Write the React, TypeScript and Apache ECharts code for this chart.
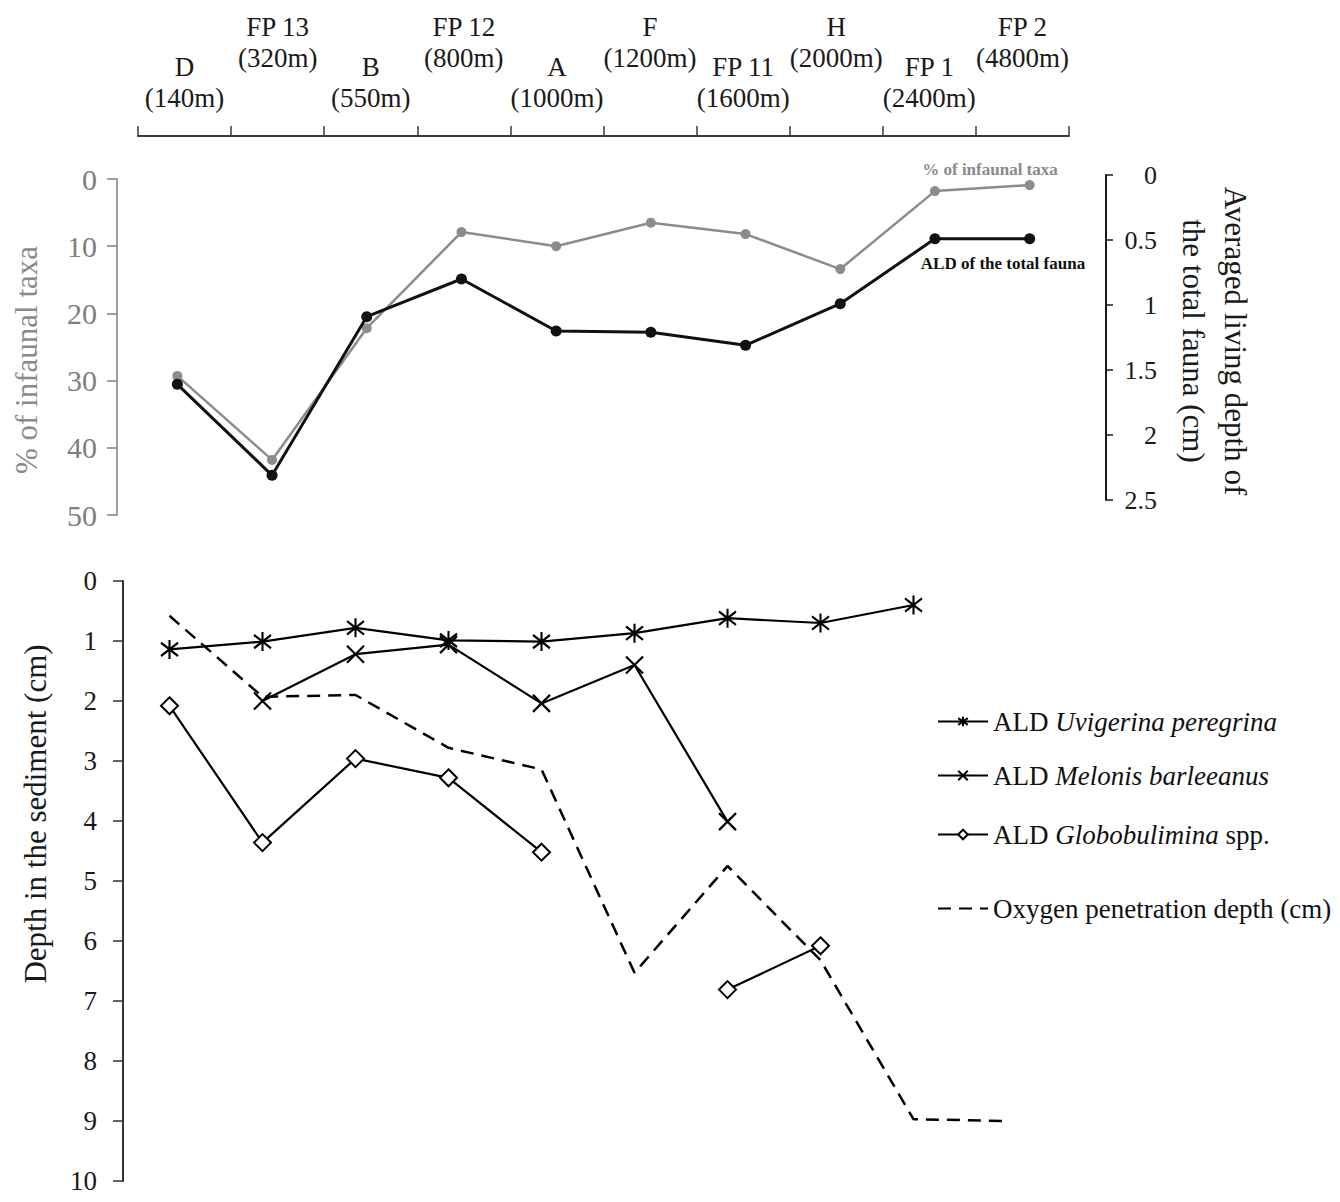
import React, { useEffect, useRef } from 'react';
import * as echarts from 'echarts';

// ---- data ----
const stations = ['D', 'FP 13', 'B', 'FP 12', 'A', 'F', 'FP 11', 'H', 'FP 1', 'FP 2'];
const depths = ['140m', '320m', '550m', '800m', '1000m', '1200m', '1600m', '2000m', '2400m', '4800m'];

// upper panel
const infaunalPct = [29.3, 41.8, 22.2, 7.9, 10.0, 6.5, 8.2, 13.4, 1.8, 0.9];
const aldTotal = [1.61, 2.31, 1.09, 0.8, 1.2, 1.21, 1.31, 0.99, 0.49, 0.49];

// lower panel
const aldUvigerina = [1.14, 1.01, 0.78, 0.99, 1.01, 0.87, 0.62, 0.7, 0.4, null];
const aldMelonis = [null, 2.0, 1.22, 1.06, 2.04, 1.4, 4.01, null, null, null];
const aldGlobobulimina = [2.08, 4.36, 2.96, 3.28, 4.52, null, 6.81, 6.08, null, null];
const oxygenDepth = [0.58, 1.93, 1.9, 2.78, 3.14, 6.53, 4.75, 6.32, 8.97, 9.0];

const seriesNames = [
  'ALD Uvigerina peregrina',
  'ALD Melonis barleeanus',
  'ALD Globobulimina spp.',
  'Oxygen penetration depth (cm)',
];

const FONT = '"Liberation Serif", "Times New Roman", serif';

const ASTERISK = 'path://M10,0 L10,20 M1,3 L19,17 M1,17 L19,3';
const CROSS = 'path://M0,0 L20,20 M0,20 L20,0';

function legendFormatter(name: string): string {
  if (name === seriesNames[0]) return '{n|ALD }{i|Uvigerina peregrina}';
  if (name === seriesNames[1]) return '{n|ALD }{i|Melonis barleeanus}';
  if (name === seriesNames[2]) return '{n|ALD }{i|Globobulimina}{n| spp.}';
  return '{n|' + name + '}';
}

const legendRich = {
  n: { fontSize: 27, fontFamily: FONT, color: '#111' },
  i: { fontSize: 27, fontFamily: FONT, fontStyle: 'italic', color: '#111' },
};

function makeLegend(name: string, top: number, hideSymbol = false) {
  const lg: any = {
    data: [name],
    left: 937,
    top,
    padding: 0,
    itemWidth: 50,
    itemHeight: 12,
    selectedMode: false,
    formatter: legendFormatter,
    textStyle: { fontSize: 27, fontFamily: FONT, color: '#111', rich: legendRich },
  };
  if (hideSymbol) {
    lg.itemStyle = { color: 'rgba(0,0,0,0)', borderColor: 'rgba(0,0,0,0)', borderWidth: 0, opacity: 0 };
  }
  return lg;
}

export default function App() {
  const ref = useRef<HTMLDivElement>(null);

  useEffect(() => {
    document.body.style.margin = '0';
    if (!ref.current) return;
    const chart = echarts.init(ref.current, null, { renderer: 'svg' });

    const hiddenCat = (gridIndex: number) => ({
      gridIndex,
      type: 'category',
      data: stations,
      boundaryGap: true,
      show: false,
    });

    const option = {
      animation: false,
      backgroundColor: '#ffffff',
      grid: [
        { left: 138, width: 931, top: 135, height: 1 },
        { left: 130, width: 947, top: 179, height: 336 },
        { left: 130, width: 947, top: 175, height: 325 },
        { left: 123, width: 930, top: 581, height: 600 },
      ],
      xAxis: [
        {
          gridIndex: 0,
          type: 'category',
          data: stations,
          position: 'top',
          boundaryGap: true,
          axisLine: { show: true, lineStyle: { color: '#3a3a3a', width: 2 } },
          axisTick: { show: true, length: 10, lineStyle: { color: '#3a3a3a', width: 1.5 } },
          axisLabel: {
            interval: 0,
            margin: 22,
            hideOverlap: false,
            formatter: (value: string, index: number) =>
              index % 2 === 0
                ? `{t|${value}}\n{t|(${depths[index]})}`
                : `{t|${value}}\n{t|(${depths[index]})}\n{sp| }`,
            rich: {
              t: { fontSize: 27, fontFamily: FONT, color: '#1a1a1a', lineHeight: 31, align: 'center' },
              sp: { fontSize: 10, lineHeight: 40 },
            },
          },
        },
        hiddenCat(1),
        hiddenCat(2),
        hiddenCat(3),
      ],
      yAxis: [
        { gridIndex: 0, type: 'value', show: false, min: 0, max: 1 },
        {
          gridIndex: 1,
          type: 'value',
          inverse: true,
          min: 0,
          max: 50,
          interval: 10,
          position: 'left',
          offset: 13,
          splitLine: { show: false },
          axisLine: { show: true, lineStyle: { color: '#7f7f7f', width: 1.5 } },
          axisTick: { show: true, length: 10, lineStyle: { color: '#7f7f7f', width: 1.5 } },
          axisLabel: { color: '#7f7f7f', fontSize: 30, fontFamily: FONT, margin: 20 },
        },
        {
          gridIndex: 2,
          type: 'value',
          inverse: true,
          min: 0,
          max: 2.5,
          interval: 0.5,
          position: 'right',
          offset: 29,
          splitLine: { show: false },
          axisLine: { show: true, lineStyle: { color: '#1a1a1a', width: 2 } },
          axisTick: { show: true, length: 7, lineStyle: { color: '#1a1a1a', width: 1.5 } },
          axisLabel: { color: '#1a1a1a', fontSize: 26, fontFamily: FONT, margin: 51, align: 'right' },
        },
        {
          gridIndex: 3,
          type: 'value',
          inverse: true,
          min: 0,
          max: 10,
          interval: 1,
          position: 'left',
          splitLine: { show: false },
          axisLine: { show: true, lineStyle: { color: '#333', width: 2 } },
          axisTick: { show: true, length: 10, lineStyle: { color: '#333', width: 1.5 } },
          axisLabel: { color: '#1a1a1a', fontSize: 27, fontFamily: FONT, margin: 26 },
        },
      ],
      legend: [
        makeLegend(seriesNames[0], 708),
        makeLegend(seriesNames[1], 762),
        makeLegend(seriesNames[2], 821),
        makeLegend(seriesNames[3], 895, true),
      ],
      graphic: [
        {
          type: 'text',
          x: 26,
          y: 360,
          rotation: Math.PI / 2,
          style: {
            text: '% of infaunal taxa',
            fill: '#8a8a8a',
            fontSize: 31,
            fontFamily: FONT,
            align: 'center',
            verticalAlign: 'middle',
          },
        },
        {
          type: 'text',
          x: 1214,
          y: 341,
          rotation: -Math.PI / 2,
          style: {
            text: 'Averaged living depth of\nthe total fauna (cm)',
            fill: '#1a1a1a',
            fontSize: 31,
            lineHeight: 42,
            fontFamily: FONT,
            align: 'center',
            verticalAlign: 'middle',
          },
        },
        {
          type: 'text',
          x: 35,
          y: 814,
          rotation: Math.PI / 2,
          style: {
            text: 'Depth in the sediment (cm)',
            fill: '#1a1a1a',
            fontSize: 31,
            fontFamily: FONT,
            align: 'center',
            verticalAlign: 'middle',
          },
        },
        {
          type: 'text',
          x: 990,
          y: 169,
          style: {
            text: '% of infaunal taxa',
            fill: '#8a8a8a',
            fontSize: 17,
            fontWeight: 'bold',
            fontFamily: FONT,
            align: 'center',
            verticalAlign: 'middle',
          },
        },
        {
          type: 'text',
          x: 1003,
          y: 263,
          style: {
            text: 'ALD of the total fauna',
            fill: '#111',
            fontSize: 17,
            fontWeight: 'bold',
            fontFamily: FONT,
            align: 'center',
            verticalAlign: 'middle',
          },
        },
      ],
      series: [
        {
          name: '% of infaunal taxa',
          type: 'line',
          xAxisIndex: 1,
          yAxisIndex: 1,
          data: infaunalPct,
          symbol: 'circle',
          symbolSize: 10,
          itemStyle: { color: '#8c8c8c' },
          lineStyle: { color: '#8c8c8c', width: 2.5 },
          z: 3,
        },
        {
          name: 'ALD of the total fauna',
          type: 'line',
          xAxisIndex: 2,
          yAxisIndex: 2,
          data: aldTotal,
          symbol: 'circle',
          symbolSize: 11,
          itemStyle: { color: '#111' },
          lineStyle: { color: '#111', width: 3 },
          z: 4,
        },
        {
          name: seriesNames[0],
          type: 'line',
          xAxisIndex: 3,
          yAxisIndex: 3,
          data: aldUvigerina,
          symbol: ASTERISK,
          symbolSize: [17, 19],
          itemStyle: { color: '#000', borderColor: '#000', borderWidth: 2.2 },
          lineStyle: { color: '#000', width: 2.2 },
          z: 4,
        },
        {
          name: seriesNames[1],
          type: 'line',
          xAxisIndex: 3,
          yAxisIndex: 3,
          data: aldMelonis,
          symbol: CROSS,
          symbolSize: 17,
          itemStyle: { color: '#000', borderColor: '#000', borderWidth: 2.2 },
          lineStyle: { color: '#000', width: 2.2 },
          z: 4,
        },
        {
          name: seriesNames[2],
          type: 'line',
          xAxisIndex: 3,
          yAxisIndex: 3,
          data: aldGlobobulimina,
          symbol: 'diamond',
          symbolSize: 17,
          itemStyle: { color: '#fff', borderColor: '#000', borderWidth: 2 },
          lineStyle: { color: '#000', width: 2.2 },
          z: 5,
        },
        {
          name: seriesNames[3],
          type: 'line',
          xAxisIndex: 3,
          yAxisIndex: 3,
          data: oxygenDepth,
          symbol: 'none',
          itemStyle: { color: '#000' },
          lineStyle: { color: '#000', width: 2.5, type: [13, 8] },
          z: 3,
        },
      ],
    };

    chart.setOption(option as any);
    return () => chart.dispose();
  }, []);

  return (
    <div
      ref={ref}
      style={{ position: 'absolute', left: 0, top: 0, width: 1340, height: 1202, background: '#fff' }}
    />
  );
}
